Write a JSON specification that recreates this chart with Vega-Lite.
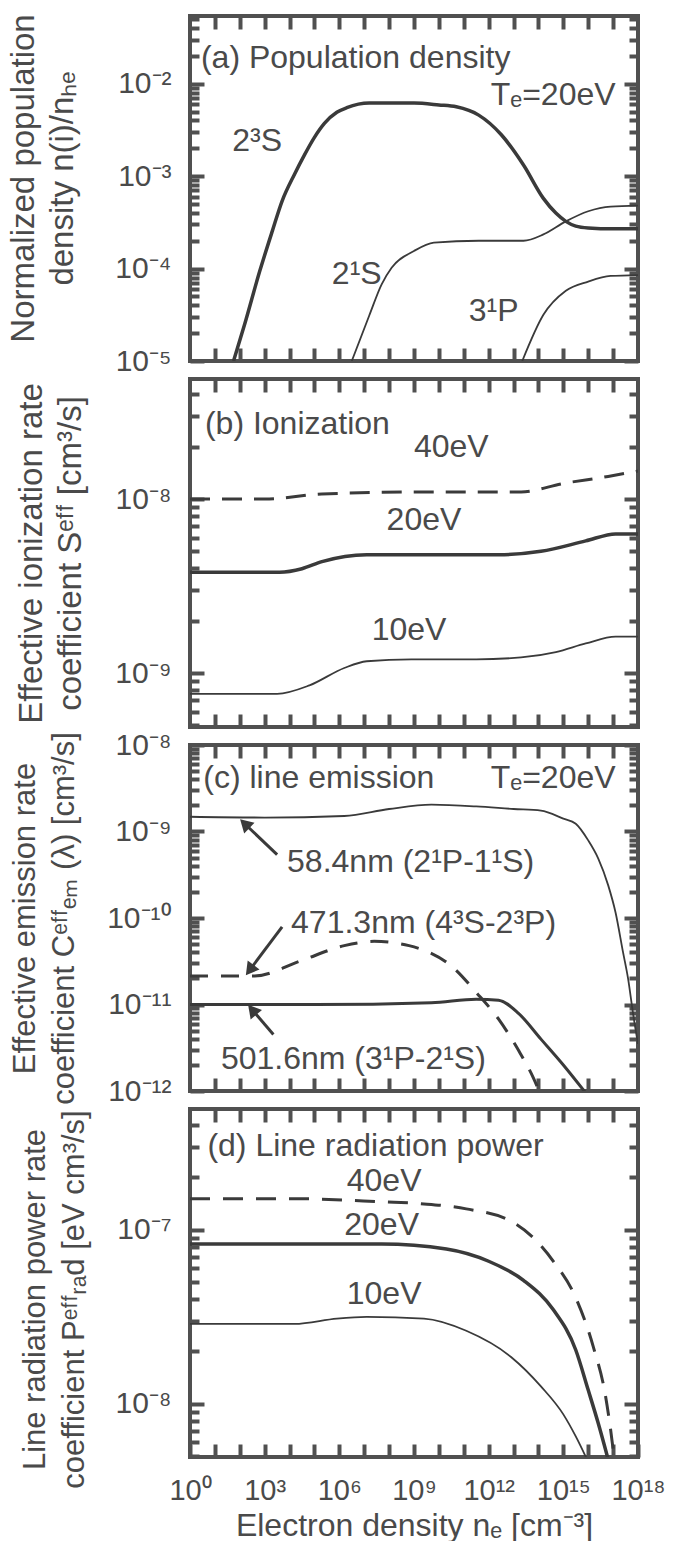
{
  "$schema": "https://vega.github.io/schema/vega-lite/v6.json",
  "padding": {"left": 4, "top": 11, "right": 4, "bottom": 2},
  "background": "white",
  "spacing": 18,
  "bounds": "flush",
  "config": {
    "view": {"stroke": "#505050", "strokeWidth": 4},
    "axis": {"domain": false, "grid": false, "labelFont": "Liberation Sans", "labelFontSize": 30, "labelColor": "#4a4a4a", "titleFont": "Liberation Sans", "titleFontSize": 33, "titleFontWeight": "normal", "titleColor": "#4a4a4a", "labelOverlap": false, "labelFlush": false, "labelBound": false, "titleLineHeight": 39},
    "text": {"font": "Liberation Sans", "fontSize": 32, "color": "#4a4a4a"}
  },
  "datasets": {
    "curves": [
      {"p":"a","s":"2³S","ne":56.2,"v":1.0e-5},{"p":"a","s":"2³S","ne":158,"v":2.51e-5},{"p":"a","s":"2³S","ne":631,"v":9.33e-5},{"p":"a","s":"2³S","ne":1995,"v":2.51e-4},{"p":"a","s":"2³S","ne":5012,"v":5.37e-4},{"p":"a","s":"2³S","ne":15849,"v":1.05e-3},{"p":"a","s":"2³S","ne":39811,"v":1.70e-3},{"p":"a","s":"2³S","ne":1e5,"v":2.63e-3},{"p":"a","s":"2³S","ne":2.51e5,"v":3.72e-3},{"p":"a","s":"2³S","ne":7.94e5,"v":4.90e-3},{"p":"a","s":"2³S","ne":2.0e6,"v":5.50e-3},{"p":"a","s":"2³S","ne":1.58e7,"v":6.17e-3},{"p":"a","s":"2³S","ne":1e9,"v":6.17e-3},{"p":"a","s":"2³S","ne":1e10,"v":5.89e-3},{"p":"a","s":"2³S","ne":5.01e10,"v":5.62e-3},{"p":"a","s":"2³S","ne":3.98e11,"v":4.57e-3},{"p":"a","s":"2³S","ne":3.16e12,"v":2.82e-3},{"p":"a","s":"2³S","ne":2.51e13,"v":1.32e-3},{"p":"a","s":"2³S","ne":1.58e14,"v":5.75e-4},{"p":"a","s":"2³S","ne":5.01e14,"v":3.98e-4},{"p":"a","s":"2³S","ne":1.26e15,"v":3.24e-4},{"p":"a","s":"2³S","ne":3.16e15,"v":2.88e-4},{"p":"a","s":"2³S","ne":1e16,"v":2.75e-4},{"p":"a","s":"2³S","ne":1e17,"v":2.69e-4},{"p":"a","s":"2³S","ne":1e18,"v":2.69e-4},
      {"p":"a","s":"2¹S","ne":3.16e6,"v":1e-5},{"p":"a","s":"2¹S","ne":1.58e7,"v":3.09e-5},{"p":"a","s":"2¹S","ne":5.01e7,"v":6.76e-5},{"p":"a","s":"2¹S","ne":1.26e8,"v":1.02e-4},{"p":"a","s":"2¹S","ne":1e9,"v":1.55e-4},{"p":"a","s":"2¹S","ne":6.31e9,"v":1.91e-4},{"p":"a","s":"2¹S","ne":3.98e11,"v":2.0e-4},{"p":"a","s":"2¹S","ne":2.51e13,"v":2.0e-4},{"p":"a","s":"2¹S","ne":1.58e14,"v":2.34e-4},{"p":"a","s":"2¹S","ne":1.26e15,"v":3.24e-4},{"p":"a","s":"2¹S","ne":1e16,"v":4.17e-4},{"p":"a","s":"2¹S","ne":7.94e16,"v":4.68e-4},{"p":"a","s":"2¹S","ne":1e18,"v":4.79e-4},
      {"p":"a","s":"3¹P","ne":2.24e13,"v":1e-5},{"p":"a","s":"3¹P","ne":1.58e14,"v":3.16e-5},{"p":"a","s":"3¹P","ne":1.26e15,"v":5.75e-5},{"p":"a","s":"3¹P","ne":1e16,"v":7.24e-5},{"p":"a","s":"3¹P","ne":7.94e16,"v":8.32e-5},{"p":"a","s":"3¹P","ne":1e18,"v":8.51e-5},
      {"p":"b","s":"40eV","ne":1,"v":1.0e-8},{"p":"b","s":"40eV","ne":1e3,"v":1.0e-8},{"p":"b","s":"40eV","ne":2.0e5,"v":1.07e-8},{"p":"b","s":"40eV","ne":6.31e9,"v":1.10e-8},{"p":"b","s":"40eV","ne":2.0e13,"v":1.10e-8},{"p":"b","s":"40eV","ne":1e15,"v":1.23e-8},{"p":"b","s":"40eV","ne":6.31e16,"v":1.35e-8},{"p":"b","s":"40eV","ne":1e18,"v":1.45e-8},
      {"p":"b","s":"20eV","ne":1,"v":3.8e-9},{"p":"b","s":"20eV","ne":3.98e3,"v":3.8e-9},{"p":"b","s":"20eV","ne":3.16e4,"v":3.98e-9},{"p":"b","s":"20eV","ne":2.0e5,"v":4.37e-9},{"p":"b","s":"20eV","ne":1.26e7,"v":4.79e-9},{"p":"b","s":"20eV","ne":6.31e9,"v":4.79e-9},{"p":"b","s":"20eV","ne":2.51e12,"v":4.79e-9},{"p":"b","s":"20eV","ne":1.26e14,"v":5.01e-9},{"p":"b","s":"20eV","ne":7.94e15,"v":5.75e-9},{"p":"b","s":"20eV","ne":1.26e17,"v":6.31e-9},{"p":"b","s":"20eV","ne":1e18,"v":6.31e-9},
      {"p":"b","s":"10eV","ne":1,"v":7.6e-10},{"p":"b","s":"10eV","ne":3.16e3,"v":7.6e-10},{"p":"b","s":"10eV","ne":6.31e4,"v":8.5e-10},{"p":"b","s":"10eV","ne":1.58e6,"v":1.07e-9},{"p":"b","s":"10eV","ne":1.26e7,"v":1.17e-9},{"p":"b","s":"10eV","ne":7.94e8,"v":1.20e-9},{"p":"b","s":"10eV","ne":3.16e11,"v":1.20e-9},{"p":"b","s":"10eV","ne":2.0e13,"v":1.23e-9},{"p":"b","s":"10eV","ne":5.01e14,"v":1.32e-9},{"p":"b","s":"10eV","ne":7.94e15,"v":1.48e-9},{"p":"b","s":"10eV","ne":1.26e17,"v":1.62e-9},{"p":"b","s":"10eV","ne":1e18,"v":1.62e-9},
      {"p":"c","s":"58.4nm","ne":1,"v":1.48e-9},{"p":"c","s":"58.4nm","ne":1e3,"v":1.45e-9},{"p":"c","s":"58.4nm","ne":1.58e6,"v":1.51e-9},{"p":"c","s":"58.4nm","ne":1e8,"v":1.82e-9},{"p":"c","s":"58.4nm","ne":5.01e9,"v":2.04e-9},{"p":"c","s":"58.4nm","ne":3.16e11,"v":1.95e-9},{"p":"c","s":"58.4nm","ne":1e13,"v":1.82e-9},{"p":"c","s":"58.4nm","ne":1.26e14,"v":1.74e-9},{"p":"c","s":"58.4nm","ne":1e15,"v":1.41e-9},{"p":"c","s":"58.4nm","ne":3.16e15,"v":1.23e-9},{"p":"c","s":"58.4nm","ne":1e16,"v":7.9e-10},{"p":"c","s":"58.4nm","ne":2.51e16,"v":4.9e-10},{"p":"c","s":"58.4nm","ne":6.31e16,"v":2.4e-10},{"p":"c","s":"58.4nm","ne":1.26e17,"v":1.15e-10},{"p":"c","s":"58.4nm","ne":2.51e17,"v":4.0e-11},{"p":"c","s":"58.4nm","ne":3.98e17,"v":2.0e-11},{"p":"c","s":"58.4nm","ne":6.31e17,"v":7.9e-12},{"p":"c","s":"58.4nm","ne":1e18,"v":3.5e-12},
      {"p":"c","s":"471.3nm","ne":1,"v":2.14e-11},{"p":"c","s":"471.3nm","ne":398,"v":2.14e-11},{"p":"c","s":"471.3nm","ne":2.51e4,"v":3.16e-11},{"p":"c","s":"471.3nm","ne":1.58e6,"v":4.79e-11},{"p":"c","s":"471.3nm","ne":2.51e7,"v":5.37e-11},{"p":"c","s":"471.3nm","ne":6.31e8,"v":4.79e-11},{"p":"c","s":"471.3nm","ne":3.98e10,"v":2.63e-11},{"p":"c","s":"471.3nm","ne":3.16e11,"v":1.38e-11},{"p":"c","s":"471.3nm","ne":2.51e12,"v":6.76e-12},{"p":"c","s":"471.3nm","ne":1.58e13,"v":2.95e-12},{"p":"c","s":"471.3nm","ne":6.31e13,"v":1.41e-12},{"p":"c","s":"471.3nm","ne":1.26e14,"v":8.9e-13},
      {"p":"c","s":"501.6nm","ne":1,"v":1.0e-11},{"p":"c","s":"501.6nm","ne":1e5,"v":1.0e-11},{"p":"c","s":"501.6nm","ne":5.01e9,"v":1.05e-11},{"p":"c","s":"501.6nm","ne":3.16e11,"v":1.15e-11},{"p":"c","s":"501.6nm","ne":2.51e12,"v":1.12e-11},{"p":"c","s":"501.6nm","ne":1.58e13,"v":7.9e-12},{"p":"c","s":"501.6nm","ne":1.26e14,"v":3.98e-12},{"p":"c","s":"501.6nm","ne":1e15,"v":2.0e-12},{"p":"c","s":"501.6nm","ne":7.94e15,"v":9.5e-13},
      {"p":"d","s":"40eV","ne":1,"v":1.51e-7},{"p":"d","s":"40eV","ne":1.58e4,"v":1.51e-7},{"p":"d","s":"40eV","ne":5.01e7,"v":1.45e-7},{"p":"d","s":"40eV","ne":2.51e9,"v":1.41e-7},{"p":"d","s":"40eV","ne":1.26e11,"v":1.32e-7},{"p":"d","s":"40eV","ne":7.94e12,"v":1.12e-7},{"p":"d","s":"40eV","ne":7.94e13,"v":8.7e-8},{"p":"d","s":"40eV","ne":3.98e14,"v":6.6e-8},{"p":"d","s":"40eV","ne":3.16e15,"v":4.07e-8},{"p":"d","s":"40eV","ne":1.58e16,"v":2.14e-8},{"p":"d","s":"40eV","ne":5.01e16,"v":1.10e-8},{"p":"d","s":"40eV","ne":7.94e16,"v":7.1e-9},{"p":"d","s":"40eV","ne":1.12e17,"v":4.8e-9},
      {"p":"d","s":"20eV","ne":1,"v":8.3e-8},{"p":"d","s":"20eV","ne":5.01e7,"v":8.3e-8},{"p":"d","s":"20eV","ne":2.0e10,"v":7.76e-8},{"p":"d","s":"20eV","ne":1e12,"v":6.6e-8},{"p":"d","s":"20eV","ne":2.51e13,"v":5.13e-8},{"p":"d","s":"20eV","ne":3.98e14,"v":3.47e-8},{"p":"d","s":"20eV","ne":3.16e15,"v":2.04e-8},{"p":"d","s":"20eV","ne":1e16,"v":1.20e-8},{"p":"d","s":"20eV","ne":2.51e16,"v":7.76e-9},{"p":"d","s":"20eV","ne":6.31e16,"v":4.8e-9},
      {"p":"d","s":"10eV","ne":1,"v":2.88e-8},{"p":"d","s":"10eV","ne":1.58e4,"v":2.88e-8},{"p":"d","s":"10eV","ne":7.94e5,"v":3.09e-8},{"p":"d","s":"10eV","ne":1.26e7,"v":3.16e-8},{"p":"d","s":"10eV","ne":2.51e9,"v":3.09e-8},{"p":"d","s":"10eV","ne":1.26e11,"v":2.63e-8},{"p":"d","s":"10eV","ne":7.94e12,"v":1.86e-8},{"p":"d","s":"10eV","ne":1.26e14,"v":1.26e-8},{"p":"d","s":"10eV","ne":1e15,"v":8.7e-9},{"p":"d","s":"10eV","ne":3.16e15,"v":6.5e-9},{"p":"d","s":"10eV","ne":8.9e15,"v":4.8e-9}
    ],
    "notes": [
      {"p":"a","k":"l","t":"(a) Population density","ne":2.75,"v":0.019},
      {"p":"a","k":"r","t":"Tₑ=20eV","ne":1.26e17,"v":7.6e-3},
      {"p":"a","k":"c","t":"2³S","ne":501,"v":2.4e-3},
      {"p":"a","k":"c","t":"2¹S","ne":5.0e6,"v":8.7e-5},
      {"p":"a","k":"c","t":"3¹P","ne":1.58e12,"v":3.47e-5},
      {"p":"b","k":"l","t":"(b) Ionization","ne":3.98,"v":2.69e-8},
      {"p":"b","k":"c","t":"40eV","ne":3.16e10,"v":2.0e-8},
      {"p":"b","k":"c","t":"20eV","ne":2.51e9,"v":7.6e-9},
      {"p":"b","k":"c","t":"10eV","ne":6.31e8,"v":1.78e-9},
      {"p":"c","k":"l","t":"(c) line emission","ne":3.4,"v":4.17e-9},
      {"p":"c","k":"r","t":"Tₑ=20eV","ne":1.26e17,"v":4.17e-9},
      {"p":"c","k":"l","t":"58.4nm (2¹P-1¹S)","ne":7943,"v":4.47e-10},
      {"p":"c","k":"l","t":"471.3nm (4³S-2³P)","ne":11482,"v":8.7e-11},
      {"p":"c","k":"l","t":"501.6nm (3¹P-2¹S)","ne":17.4,"v":2.34e-12},
      {"p":"d","k":"l","t":"(d) Line radiation power","ne":5.0,"v":3.05e-7},
      {"p":"d","k":"c","t":"40eV","ne":6.31e7,"v":1.92e-7},
      {"p":"d","k":"c","t":"20eV","ne":5.0e7,"v":1.07e-7},
      {"p":"d","k":"c","t":"10eV","ne":6.31e7,"v":4.27e-8}
    ],
    "arrows": [
      {"id":"a1","hx":158,"hy":1.23e-9,"tx":3162,"ty":5.4e-10},
      {"id":"a2","hx":251,"hy":2.5e-11,"tx":5012,"ty":7.9e-11},
      {"id":"a3","hx":316,"hy":8.7e-12,"tx":2239,"ty":4.5e-12}
    ]
  },
  "vconcat": [
    {
      "width": 448, "height": 345,
      "resolve": {"axis": {"x": "independent", "y": "independent"}},
      "layer": [
        {"data": {"name": "curves"}, "transform": [{"filter": "datum.p == 'a' && datum.s == '2³S'"}],
         "mark": {"type": "line", "strokeWidth": 3.5, "interpolate": "monotone", "clip": true, "color": "#3a3a3a"},
         "encoding": {
           "x": {"field": "ne", "type": "quantitative", "scale": {"type": "log", "domain": [1, 1e18], "nice": false}, "axis": {"orient": "bottom", "values": [1e1,1e2,1e3,1e4,1e5,1e6,1e7,1e8,1e9,1e10,1e11,1e12,1e13,1e14,1e15,1e16,1e17], "ticks": true, "tickSize": -13, "tickColor": "#505050", "tickWidth": 4, "tickOpacity": 1, "labels": false, "title": null}},
           "y": {"field": "v", "type": "quantitative", "scale": {"type": "log", "domain": [1e-5, 0.054], "nice": false}, "axis": {"orient": "left", "values": [1e-5,1e-4,1e-3,1e-2], "ticks": true, "tickSize": -14, "tickColor": "#505050", "tickWidth": 4, "tickOpacity": 1, "labelPadding": 33, "labelExpr": "'10' + (datum.value < 1 ? '⁻' : '') + (abs(round(log(datum.value)/LN10)) >= 10 ? '¹' : '') + ['⁰','¹','²','³','⁴','⁵','⁶','⁷','⁸','⁹'][abs(round(log(datum.value)/LN10)) % 10]", "title": ["Normalized population", "density n(i)/nₕₑ"], "titleX": -183, "titleY": 162, "titleBaseline": "top"}},
           "detail": {"field": "s"}
         }},
        {"data": {"name": "curves"}, "transform": [{"filter": "datum.p == 'a' && (datum.s == '2¹S' || datum.s == '3¹P')"}],
         "mark": {"type": "line", "strokeWidth": 1.8, "interpolate": "monotone", "clip": true, "color": "#3a3a3a"},
         "encoding": {
           "x": {"field": "ne", "type": "quantitative", "scale": {"type": "log", "domain": [1, 1e18], "nice": false}, "axis": {"orient": "top", "values": [1e1,1e2,1e3,1e4,1e5,1e6,1e7,1e8,1e9,1e10,1e11,1e12,1e13,1e14,1e15,1e16,1e17], "ticks": true, "tickSize": -13, "tickColor": "#505050", "tickWidth": 4, "tickOpacity": 1, "labels": false, "title": null}},
           "y": {"field": "v", "type": "quantitative", "scale": {"type": "log", "domain": [1e-5, 0.054], "nice": false}, "axis": {"orient": "left", "values": [2e-5,3e-5,4e-5,5e-5,6e-5,7e-5,8e-5,9e-5,2e-4,3e-4,4e-4,5e-4,6e-4,7e-4,8e-4,9e-4,2e-3,3e-3,4e-3,5e-3,6e-3,7e-3,8e-3,9e-3,2e-2,3e-2,4e-2,5e-2], "ticks": true, "tickSize": -9, "tickColor": "#505050", "tickWidth": 4, "tickOpacity": 1, "labels": false, "title": null}},
           "detail": {"field": "s"}
         }},
        {"data": {"name": "notes"}, "transform": [{"filter": "datum.p == 'a' && datum.k == 'c'"}],
         "mark": {"type": "text", "align": "center", "baseline": "middle"},
         "encoding": {
           "x": {"field": "ne", "type": "quantitative", "scale": {"type": "log", "domain": [1, 1e18], "nice": false}, "axis": null},
           "y": {"field": "v", "type": "quantitative", "scale": {"type": "log", "domain": [1e-5, 0.054], "nice": false}, "axis": {"orient": "right", "values": [1e-5,1e-4,1e-3,1e-2], "ticks": true, "tickSize": -14, "tickColor": "#505050", "tickWidth": 4, "tickOpacity": 1, "labels": false, "title": null}},
           "text": {"field": "t"}
         }},
        {"data": {"name": "notes"}, "transform": [{"filter": "datum.p == 'a' && datum.k == 'l'"}],
         "mark": {"type": "text", "align": "left", "baseline": "middle"},
         "encoding": {
           "x": {"field": "ne", "type": "quantitative", "scale": {"type": "log", "domain": [1, 1e18], "nice": false}, "axis": null},
           "y": {"field": "v", "type": "quantitative", "scale": {"type": "log", "domain": [1e-5, 0.054], "nice": false}, "axis": {"orient": "right", "values": [2e-5,3e-5,4e-5,5e-5,6e-5,7e-5,8e-5,9e-5,2e-4,3e-4,4e-4,5e-4,6e-4,7e-4,8e-4,9e-4,2e-3,3e-3,4e-3,5e-3,6e-3,7e-3,8e-3,9e-3,2e-2,3e-2,4e-2,5e-2], "ticks": true, "tickSize": -9, "tickColor": "#505050", "tickWidth": 4, "tickOpacity": 1, "labels": false, "title": null}},
           "text": {"field": "t"}
         }},
        {"data": {"name": "notes"}, "transform": [{"filter": "datum.p == 'a' && datum.k == 'r'"}],
         "mark": {"type": "text", "align": "right", "baseline": "middle"},
         "encoding": {
           "x": {"field": "ne", "type": "quantitative", "scale": {"type": "log", "domain": [1, 1e18], "nice": false}, "axis": null},
           "y": {"field": "v", "type": "quantitative", "scale": {"type": "log", "domain": [1e-5, 0.054], "nice": false}, "axis": null},
           "text": {"field": "t"}
         }}
      ]
    },
    {
      "width": 448, "height": 348,
      "resolve": {"axis": {"x": "independent", "y": "independent"}},
      "layer": [
        {"data": {"name": "curves"}, "transform": [{"filter": "datum.p == 'b' && datum.s == '20eV'"}],
         "mark": {"type": "line", "strokeWidth": 3.5, "interpolate": "monotone", "clip": true, "color": "#3a3a3a"},
         "encoding": {
           "x": {"field": "ne", "type": "quantitative", "scale": {"type": "log", "domain": [1, 1e18], "nice": false}, "axis": {"orient": "bottom", "values": [1e1,1e2,1e3,1e4,1e5,1e6,1e7,1e8,1e9,1e10,1e11,1e12,1e13,1e14,1e15,1e16,1e17], "ticks": true, "tickSize": -13, "tickColor": "#505050", "tickWidth": 4, "tickOpacity": 1, "labels": false, "title": null}},
           "y": {"field": "v", "type": "quantitative", "scale": {"type": "log", "domain": [4.9e-10, 4.9e-8], "nice": false}, "axis": {"orient": "left", "values": [1e-9,1e-8], "ticks": true, "tickSize": -14, "tickColor": "#505050", "tickWidth": 4, "tickOpacity": 1, "labelPadding": 33, "labelExpr": "'10' + (datum.value < 1 ? '⁻' : '') + (abs(round(log(datum.value)/LN10)) >= 10 ? '¹' : '') + ['⁰','¹','²','³','⁴','⁵','⁶','⁷','⁸','⁹'][abs(round(log(datum.value)/LN10)) % 10]", "title": ["Effective ionization rate", "coefficient Sᵉᶠᶠ [cm³/s]"], "titleX": -175, "titleBaseline": "top"}},
           "detail": {"field": "s"}
         }},
        {"data": {"name": "curves"}, "transform": [{"filter": "datum.p == 'b' && datum.s == '10eV'"}],
         "mark": {"type": "line", "strokeWidth": 1.8, "interpolate": "monotone", "clip": true, "color": "#3a3a3a"},
         "encoding": {
           "x": {"field": "ne", "type": "quantitative", "scale": {"type": "log", "domain": [1, 1e18], "nice": false}, "axis": {"orient": "top", "values": [1e1,1e2,1e3,1e4,1e5,1e6,1e7,1e8,1e9,1e10,1e11,1e12,1e13,1e14,1e15,1e16,1e17], "ticks": true, "tickSize": -13, "tickColor": "#505050", "tickWidth": 4, "tickOpacity": 1, "labels": false, "title": null}},
           "y": {"field": "v", "type": "quantitative", "scale": {"type": "log", "domain": [4.9e-10, 4.9e-8], "nice": false}, "axis": {"orient": "left", "values": [5e-10,6e-10,7e-10,8e-10,9e-10,2e-9,3e-9,4e-9,5e-9,6e-9,7e-9,8e-9,9e-9,2e-8,3e-8,4e-8], "ticks": true, "tickSize": -9, "tickColor": "#505050", "tickWidth": 4, "tickOpacity": 1, "labels": false, "title": null}},
           "detail": {"field": "s"}
         }},
        {"data": {"name": "curves"}, "transform": [{"filter": "datum.p == 'b' && datum.s == '40eV'"}],
         "mark": {"type": "line", "strokeWidth": 3, "strokeDash": [20, 12], "interpolate": "monotone", "clip": true, "color": "#3a3a3a"},
         "encoding": {
           "x": {"field": "ne", "type": "quantitative", "scale": {"type": "log", "domain": [1, 1e18], "nice": false}, "axis": null},
           "y": {"field": "v", "type": "quantitative", "scale": {"type": "log", "domain": [4.9e-10, 4.9e-8], "nice": false}, "axis": {"orient": "right", "values": [1e-9,1e-8], "ticks": true, "tickSize": -14, "tickColor": "#505050", "tickWidth": 4, "tickOpacity": 1, "labels": false, "title": null}},
           "detail": {"field": "s"}
         }},
        {"data": {"name": "notes"}, "transform": [{"filter": "datum.p == 'b' && datum.k == 'c'"}],
         "mark": {"type": "text", "align": "center", "baseline": "middle"},
         "encoding": {
           "x": {"field": "ne", "type": "quantitative", "scale": {"type": "log", "domain": [1, 1e18], "nice": false}, "axis": null},
           "y": {"field": "v", "type": "quantitative", "scale": {"type": "log", "domain": [4.9e-10, 4.9e-8], "nice": false}, "axis": {"orient": "right", "values": [5e-10,6e-10,7e-10,8e-10,9e-10,2e-9,3e-9,4e-9,5e-9,6e-9,7e-9,8e-9,9e-9,2e-8,3e-8,4e-8], "ticks": true, "tickSize": -9, "tickColor": "#505050", "tickWidth": 4, "tickOpacity": 1, "labels": false, "title": null}},
           "text": {"field": "t"}
         }},
        {"data": {"name": "notes"}, "transform": [{"filter": "datum.p == 'b' && datum.k == 'l'"}],
         "mark": {"type": "text", "align": "left", "baseline": "middle"},
         "encoding": {
           "x": {"field": "ne", "type": "quantitative", "scale": {"type": "log", "domain": [1, 1e18], "nice": false}, "axis": null},
           "y": {"field": "v", "type": "quantitative", "scale": {"type": "log", "domain": [4.9e-10, 4.9e-8], "nice": false}, "axis": null},
           "text": {"field": "t"}
         }}
      ]
    },
    {
      "width": 448, "height": 346,
      "resolve": {"axis": {"x": "independent", "y": "independent"}},
      "layer": [
        {"data": {"name": "curves"}, "transform": [{"filter": "datum.p == 'c' && datum.s == '501.6nm'"}],
         "mark": {"type": "line", "strokeWidth": 3, "interpolate": "monotone", "clip": true, "color": "#3a3a3a"},
         "encoding": {
           "x": {"field": "ne", "type": "quantitative", "scale": {"type": "log", "domain": [1, 1e18], "nice": false}, "axis": {"orient": "bottom", "values": [1e1,1e2,1e3,1e4,1e5,1e6,1e7,1e8,1e9,1e10,1e11,1e12,1e13,1e14,1e15,1e16,1e17], "ticks": true, "tickSize": -13, "tickColor": "#505050", "tickWidth": 4, "tickOpacity": 1, "labels": false, "title": null}},
           "y": {"field": "v", "type": "quantitative", "scale": {"type": "log", "domain": [1e-12, 1e-8], "nice": false}, "axis": {"orient": "left", "values": [1e-12,1e-11,1e-10,1e-9,1e-8], "ticks": true, "tickSize": -14, "tickColor": "#505050", "tickWidth": 4, "tickOpacity": 1, "labelPadding": 33, "labelExpr": "'10' + (datum.value < 1 ? '⁻' : '') + (abs(round(log(datum.value)/LN10)) >= 10 ? '¹' : '') + ['⁰','¹','²','³','⁴','⁵','⁶','⁷','⁸','⁹'][abs(round(log(datum.value)/LN10)) % 10]", "title": ["Effective emission rate", "coefficient Cᵉᶠᶠₑₘ (λ) [cm³/s]"], "titleFontSize": 31, "titleX": -180, "titleBaseline": "top"}},
           "detail": {"field": "s"}
         }},
        {"data": {"name": "curves"}, "transform": [{"filter": "datum.p == 'c' && datum.s == '58.4nm'"}],
         "mark": {"type": "line", "strokeWidth": 1.8, "interpolate": "monotone", "clip": true, "color": "#3a3a3a"},
         "encoding": {
           "x": {"field": "ne", "type": "quantitative", "scale": {"type": "log", "domain": [1, 1e18], "nice": false}, "axis": {"orient": "top", "values": [1e1,1e2,1e3,1e4,1e5,1e6,1e7,1e8,1e9,1e10,1e11,1e12,1e13,1e14,1e15,1e16,1e17], "ticks": true, "tickSize": -13, "tickColor": "#505050", "tickWidth": 4, "tickOpacity": 1, "labels": false, "title": null}},
           "y": {"field": "v", "type": "quantitative", "scale": {"type": "log", "domain": [1e-12, 1e-8], "nice": false}, "axis": {"orient": "left", "values": [2e-12,3e-12,4e-12,5e-12,6e-12,7e-12,8e-12,9e-12,2e-11,3e-11,4e-11,5e-11,6e-11,7e-11,8e-11,9e-11,2e-10,3e-10,4e-10,5e-10,6e-10,7e-10,8e-10,9e-10,2e-9,3e-9,4e-9,5e-9,6e-9,7e-9,8e-9,9e-9], "ticks": true, "tickSize": -9, "tickColor": "#505050", "tickWidth": 4, "tickOpacity": 1, "labels": false, "title": null}},
           "detail": {"field": "s"}
         }},
        {"data": {"name": "curves"}, "transform": [{"filter": "datum.p == 'c' && datum.s == '471.3nm'"}],
         "mark": {"type": "line", "strokeWidth": 3, "strokeDash": [18, 13], "interpolate": "monotone", "clip": true, "color": "#3a3a3a"},
         "encoding": {
           "x": {"field": "ne", "type": "quantitative", "scale": {"type": "log", "domain": [1, 1e18], "nice": false}, "axis": null},
           "y": {"field": "v", "type": "quantitative", "scale": {"type": "log", "domain": [1e-12, 1e-8], "nice": false}, "axis": {"orient": "right", "values": [1e-12,1e-11,1e-10,1e-9,1e-8], "ticks": true, "tickSize": -14, "tickColor": "#505050", "tickWidth": 4, "tickOpacity": 1, "labels": false, "title": null}},
           "detail": {"field": "s"}
         }},
        {"data": {"name": "notes"}, "transform": [{"filter": "datum.p == 'c' && datum.k == 'l'"}],
         "mark": {"type": "text", "align": "left", "baseline": "middle"},
         "encoding": {
           "x": {"field": "ne", "type": "quantitative", "scale": {"type": "log", "domain": [1, 1e18], "nice": false}, "axis": null},
           "y": {"field": "v", "type": "quantitative", "scale": {"type": "log", "domain": [1e-12, 1e-8], "nice": false}, "axis": {"orient": "right", "values": [2e-12,3e-12,4e-12,5e-12,6e-12,7e-12,8e-12,9e-12,2e-11,3e-11,4e-11,5e-11,6e-11,7e-11,8e-11,9e-11,2e-10,3e-10,4e-10,5e-10,6e-10,7e-10,8e-10,9e-10,2e-9,3e-9,4e-9,5e-9,6e-9,7e-9,8e-9,9e-9], "ticks": true, "tickSize": -9, "tickColor": "#505050", "tickWidth": 4, "tickOpacity": 1, "labels": false, "title": null}},
           "text": {"field": "t"}
         }},
        {"data": {"name": "notes"}, "transform": [{"filter": "datum.p == 'c' && datum.k == 'r'"}],
         "mark": {"type": "text", "align": "right", "baseline": "middle"},
         "encoding": {
           "x": {"field": "ne", "type": "quantitative", "scale": {"type": "log", "domain": [1, 1e18], "nice": false}, "axis": null},
           "y": {"field": "v", "type": "quantitative", "scale": {"type": "log", "domain": [1e-12, 1e-8], "nice": false}, "axis": null},
           "text": {"field": "t"}
         }},
        {"data": {"name": "arrows"},
         "mark": {"type": "rule", "strokeWidth": 3, "color": "#3a3a3a"},
         "encoding": {
           "x": {"field": "hx", "type": "quantitative", "scale": {"type": "log", "domain": [1, 1e18], "nice": false}, "axis": null},
           "x2": {"field": "tx"},
           "y": {"field": "hy", "type": "quantitative", "scale": {"type": "log", "domain": [1e-12, 1e-8], "nice": false}, "axis": null},
           "y2": {"field": "ty"}
         }},
        {"data": {"name": "arrows"}, "transform": [{"filter": "datum.id == 'a1'"}],
         "mark": {"type": "point", "shape": "triangle-up", "filled": true, "size": 220, "angle": 314, "color": "#3a3a3a", "opacity": 1},
         "encoding": {
           "x": {"field": "hx", "type": "quantitative", "scale": {"type": "log", "domain": [1, 1e18], "nice": false}, "axis": null},
           "y": {"field": "hy", "type": "quantitative", "scale": {"type": "log", "domain": [1e-12, 1e-8], "nice": false}, "axis": null}
         }},
        {"data": {"name": "arrows"}, "transform": [{"filter": "datum.id == 'a2'"}],
         "mark": {"type": "point", "shape": "triangle-up", "filled": true, "size": 220, "angle": 217, "color": "#3a3a3a", "opacity": 1},
         "encoding": {
           "x": {"field": "hx", "type": "quantitative", "scale": {"type": "log", "domain": [1, 1e18], "nice": false}, "axis": null},
           "y": {"field": "hy", "type": "quantitative", "scale": {"type": "log", "domain": [1e-12, 1e-8], "nice": false}, "axis": null}
         }},
        {"data": {"name": "arrows"}, "transform": [{"filter": "datum.id == 'a3'"}],
         "mark": {"type": "point", "shape": "triangle-up", "filled": true, "size": 220, "angle": 320, "color": "#3a3a3a", "opacity": 1},
         "encoding": {
           "x": {"field": "hx", "type": "quantitative", "scale": {"type": "log", "domain": [1, 1e18], "nice": false}, "axis": null},
           "y": {"field": "hy", "type": "quantitative", "scale": {"type": "log", "domain": [1e-12, 1e-8], "nice": false}, "axis": null}
         }}
      ]
    },
    {
      "width": 448, "height": 348,
      "resolve": {"axis": {"x": "independent", "y": "independent"}},
      "layer": [
        {"data": {"name": "curves"}, "transform": [{"filter": "datum.p == 'd' && datum.s == '20eV'"}],
         "mark": {"type": "line", "strokeWidth": 3.5, "interpolate": "monotone", "clip": true, "color": "#3a3a3a"},
         "encoding": {
           "x": {"field": "ne", "type": "quantitative", "scale": {"type": "log", "domain": [1, 1e18], "nice": false}, "axis": {"orient": "bottom", "values": [1,1e1,1e2,1e3,1e4,1e5,1e6,1e7,1e8,1e9,1e10,1e11,1e12,1e13,1e14,1e15,1e16,1e17,1e18], "ticks": true, "tickSize": -13, "tickColor": "#505050", "tickWidth": 4, "tickOpacity": 1, "labelPadding": 32, "labelFontSize": 29, "labelExpr": "round(log(datum.value)/LN10) % 3 == 0 ? '10' + (round(log(datum.value)/LN10) >= 10 ? '¹' : '') + ['⁰','¹','²','³','⁴','⁵','⁶','⁷','⁸','⁹'][round(log(datum.value)/LN10) % 10] : ''", "title": "Electron density nₑ [cm⁻³]", "titleFontSize": 32, "titleY": 68, "titleBaseline": "middle"}},
           "y": {"field": "v", "type": "quantitative", "scale": {"type": "log", "domain": [4.95e-9, 4.95e-7], "nice": false}, "axis": {"orient": "left", "values": [1e-8,1e-7], "ticks": true, "tickSize": -14, "tickColor": "#505050", "tickWidth": 4, "tickOpacity": 1, "labelPadding": 33, "labelExpr": "'10' + (datum.value < 1 ? '⁻' : '') + (abs(round(log(datum.value)/LN10)) >= 10 ? '¹' : '') + ['⁰','¹','²','³','⁴','⁵','⁶','⁷','⁸','⁹'][abs(round(log(datum.value)/LN10)) % 10]", "title": ["Line radiation power rate", "coefficient Pᵉᶠᶠᵣₐd [eV cm³/s]"], "titleFontSize": 31, "titleX": -170, "titleY": 190, "titleBaseline": "top"}},
           "detail": {"field": "s"}
         }},
        {"data": {"name": "curves"}, "transform": [{"filter": "datum.p == 'd' && datum.s == '10eV'"}],
         "mark": {"type": "line", "strokeWidth": 1.8, "interpolate": "monotone", "clip": true, "color": "#3a3a3a"},
         "encoding": {
           "x": {"field": "ne", "type": "quantitative", "scale": {"type": "log", "domain": [1, 1e18], "nice": false}, "axis": {"orient": "top", "values": [1e1,1e2,1e3,1e4,1e5,1e6,1e7,1e8,1e9,1e10,1e11,1e12,1e13,1e14,1e15,1e16,1e17], "ticks": true, "tickSize": -13, "tickColor": "#505050", "tickWidth": 4, "tickOpacity": 1, "labels": false, "title": null}},
           "y": {"field": "v", "type": "quantitative", "scale": {"type": "log", "domain": [4.95e-9, 4.95e-7], "nice": false}, "axis": {"orient": "left", "values": [5e-9,6e-9,7e-9,8e-9,9e-9,2e-8,3e-8,4e-8,5e-8,6e-8,7e-8,8e-8,9e-8,2e-7,3e-7,4e-7], "ticks": true, "tickSize": -9, "tickColor": "#505050", "tickWidth": 4, "tickOpacity": 1, "labels": false, "title": null}},
           "detail": {"field": "s"}
         }},
        {"data": {"name": "curves"}, "transform": [{"filter": "datum.p == 'd' && datum.s == '40eV'"}],
         "mark": {"type": "line", "strokeWidth": 3, "strokeDash": [20, 13], "interpolate": "monotone", "clip": true, "color": "#3a3a3a"},
         "encoding": {
           "x": {"field": "ne", "type": "quantitative", "scale": {"type": "log", "domain": [1, 1e18], "nice": false}, "axis": null},
           "y": {"field": "v", "type": "quantitative", "scale": {"type": "log", "domain": [4.95e-9, 4.95e-7], "nice": false}, "axis": {"orient": "right", "values": [1e-8,1e-7], "ticks": true, "tickSize": -14, "tickColor": "#505050", "tickWidth": 4, "tickOpacity": 1, "labels": false, "title": null}},
           "detail": {"field": "s"}
         }},
        {"data": {"name": "notes"}, "transform": [{"filter": "datum.p == 'd' && datum.k == 'c'"}],
         "mark": {"type": "text", "align": "center", "baseline": "middle"},
         "encoding": {
           "x": {"field": "ne", "type": "quantitative", "scale": {"type": "log", "domain": [1, 1e18], "nice": false}, "axis": null},
           "y": {"field": "v", "type": "quantitative", "scale": {"type": "log", "domain": [4.95e-9, 4.95e-7], "nice": false}, "axis": {"orient": "right", "values": [5e-9,6e-9,7e-9,8e-9,9e-9,2e-8,3e-8,4e-8,5e-8,6e-8,7e-8,8e-8,9e-8,2e-7,3e-7,4e-7], "ticks": true, "tickSize": -9, "tickColor": "#505050", "tickWidth": 4, "tickOpacity": 1, "labels": false, "title": null}},
           "text": {"field": "t"}
         }},
        {"data": {"name": "notes"}, "transform": [{"filter": "datum.p == 'd' && datum.k == 'l'"}],
         "mark": {"type": "text", "align": "left", "baseline": "middle"},
         "encoding": {
           "x": {"field": "ne", "type": "quantitative", "scale": {"type": "log", "domain": [1, 1e18], "nice": false}, "axis": null},
           "y": {"field": "v", "type": "quantitative", "scale": {"type": "log", "domain": [4.95e-9, 4.95e-7], "nice": false}, "axis": null},
           "text": {"field": "t"}
         }}
      ]
    }
  ]
}
